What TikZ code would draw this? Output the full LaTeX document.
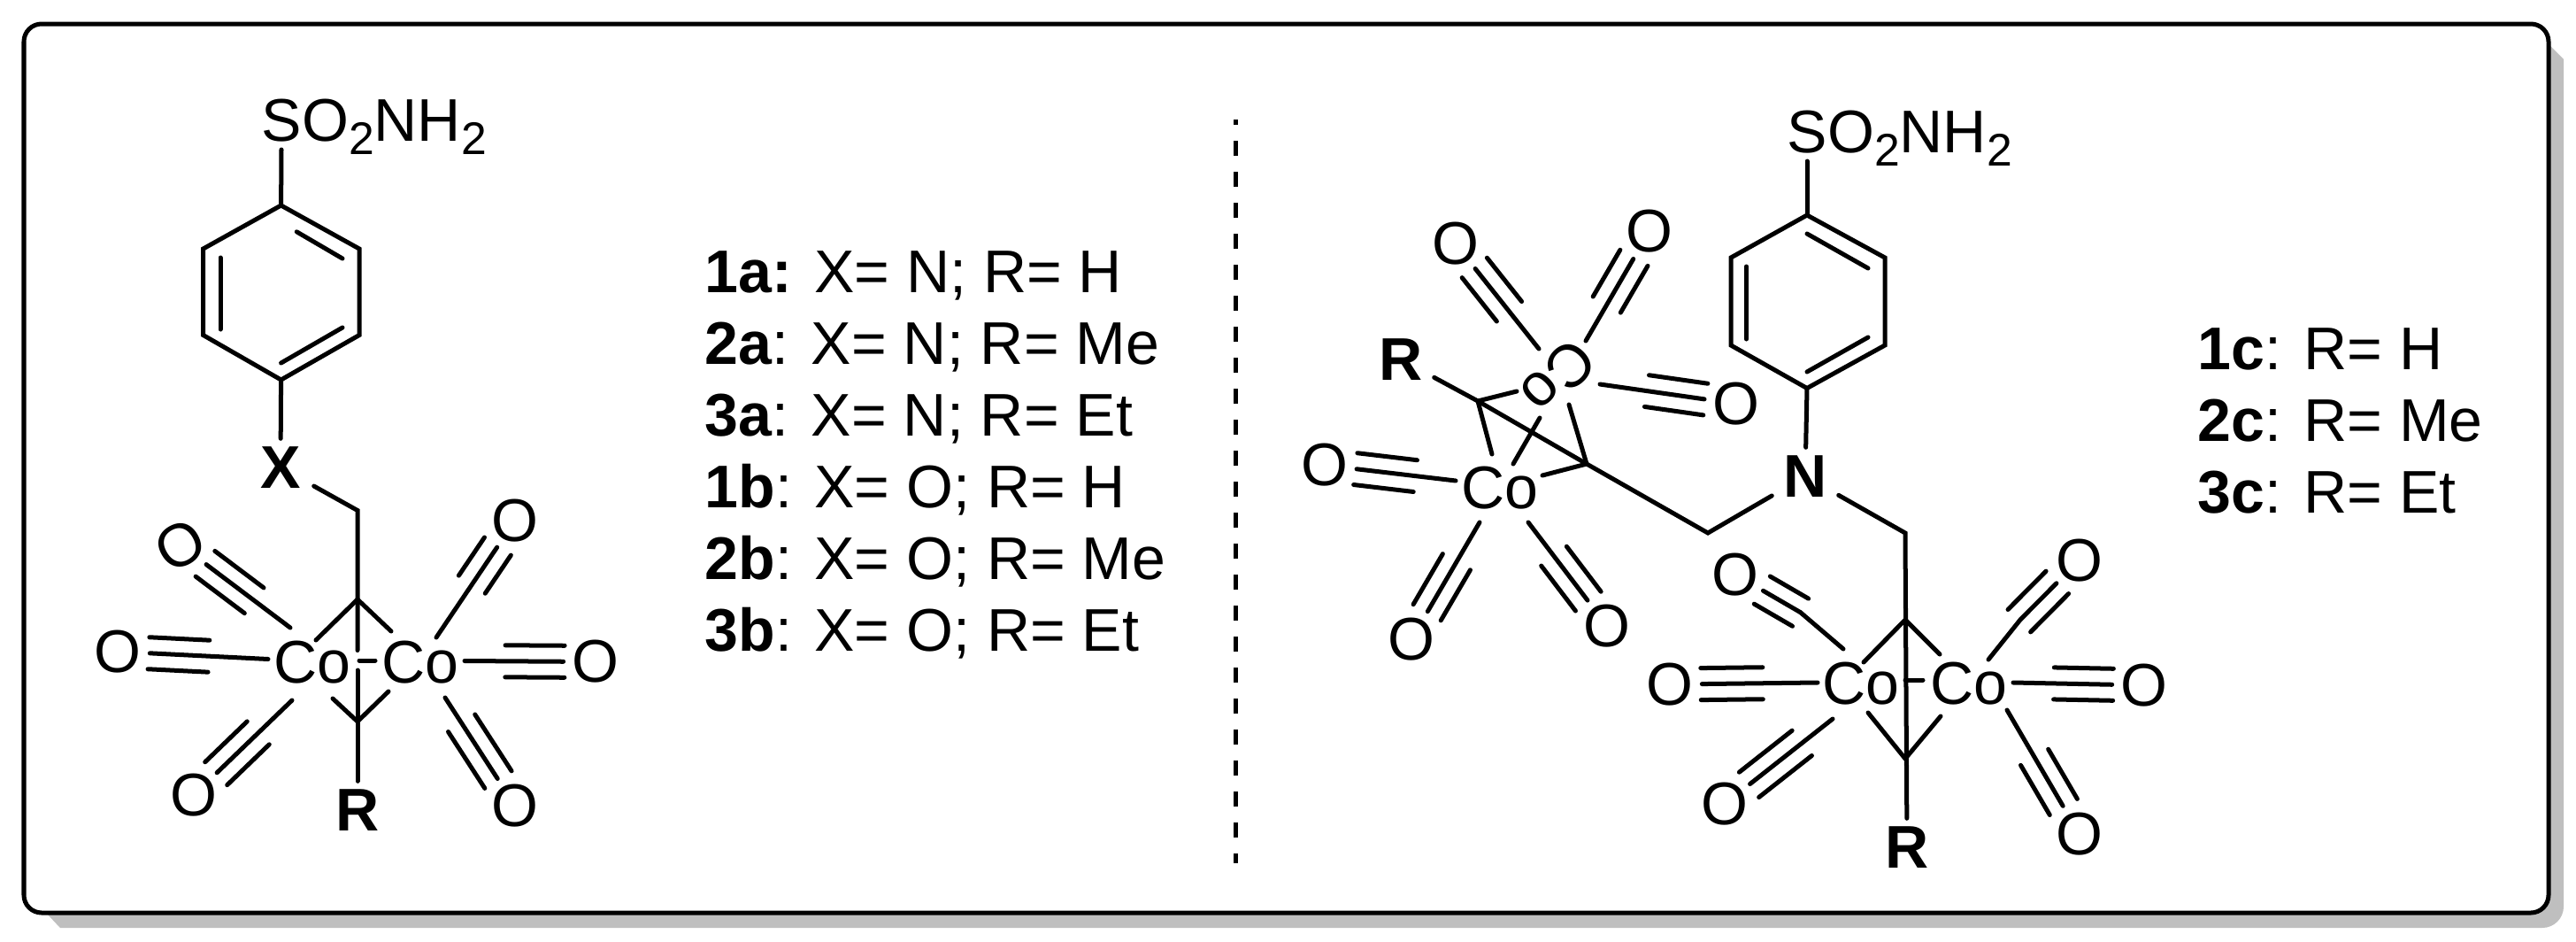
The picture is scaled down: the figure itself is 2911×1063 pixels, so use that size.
\documentclass[tikz,border=0pt]{standalone}
\usepackage{fontspec}
\setmainfont{Liberation Sans}
\usetikzlibrary{calc}
\newcommand{\subtwo}{\raisebox{-.235em}{\fontsize{14.7}{16}\selectfont 2}}
\newcommand{\carbonyl}[4]{%
  \coordinate (cstart) at ($(#1)+(#2)$);
  \draw[bond] (cstart) -- (#3);
  \foreach \s in {-.18cm,.18cm}
    \draw[bond] ($(#3)!.35cm!(cstart)!\s!90:(#3)$) -- ($(#3)!#4cm!(cstart)!\s!90:(#3)$);
}
\begin{document}
\begin{tikzpicture}[x=.01cm,y=-.01cm]
            \tikzset{every node/.style={font=\fontsize{19.35}{23}\selectfont,inner sep=0pt}};
            \tikzset{bond/.style={line width=.05cm,line cap=round,line join=miter}};
            \tikzset{oxy/.style={circle,minimum size=.7cm}};
            \tikzset{hetero/.style={font=\fontsize{19.35}{23}\selectfont\bfseries,minimum width=.74cm,minimum height=.64cm}};
            \tikzset{entry/.style={anchor=base west}};
            \useasboundingbox (0,0) rectangle (2911,1063);

            \fill[black!25] (52,1031) -- (68,1048) [rounded corners=.24cm] -- (2897,1048) [sharp corners] -- (2897,67) -- (2880,50) -- cycle;
            \draw[line width=.05cm,fill=white,rounded corners=.2cm] (27,27) rectangle (2880,1031);
            \draw[line width=.05cm,dash pattern=on .17cm off .18cm,dash phase=.11cm] (1396.5,135) -- (1396.5,975);

            \node[entry] (l1a) at (796,330){\textbf{1a:} X= N; R= H};
            \node[entry] (l2a) at (796,411){\textbf{2a}: X= N; R= Me};
            \node[entry] (l3a) at (796,492){\textbf{3a}: X= N; R= Et};
            \node[entry] (l1b) at (796,573){\textbf{1b}: X= O; R= H};
            \node[entry] (l2b) at (796,654){\textbf{2b}: X= O; R= Me};
            \node[entry] (l3b) at (796,735){\textbf{3b}: X= O; R= Et};
            \node[entry] (l1c) at (2483,417){\textbf{1c}: R= H};
            \node[entry] (l2c) at (2483,498){\textbf{2c}: R= Me};
            \node[entry] (l3c) at (2483,579){\textbf{3c}: R= Et};

            \node[entry] (sa) at (295,159){SO\subtwo NH\subtwo};
            \coordinate (a1) at (317.6,232);
            \coordinate (a2) at (406,281);
            \coordinate (a3) at (406,378.5);
            \coordinate (a4) at (317.6,429);
            \coordinate (a5) at (229.6,378.5);
            \coordinate (a6) at (229.6,281);
            \node[hetero] (xa) at (317,528){X};
            \coordinate (cha) at (404,576.5);
            \coordinate (capa) at (404,677);
            \coordinate (cbot) at (404,815);
            \node[hetero] (ra) at (404,915){R};
            \node (co1) at (353,748.5){Co};
            \node (co2) at (475,748.5){Co};
            \node[oxy,rotate=30] (o1) at (204,615.7){O};
            \node[oxy] (o2) at (133,736){O};
            \node[oxy] (o3) at (219,898){O};
            \node[oxy] (o4) at (582,588){O};
            \node[oxy] (o5) at (673,747.5){O};
            \node[oxy] (o6) at (582,910){O};

            \draw[bond] (a1) -- ($(sa.base west)+(23,10)$);
            \draw[bond] (a1) -- (a2) -- (a3) -- (a4) -- (a5) -- (a6) -- cycle;
            \draw[bond] ($(a1)!.2!(a2)+(0,20)$) -- ($(a2)+(-19,11)$);
            \draw[bond] ($(a6)+(19.4,10)$) -- ($(a5)+(19.4,-6.5)$);
            \draw[bond] ($(a4)+(0,-19)$) -- ($(a3)+(-19,-8.5)$);
            \draw[bond] (a4) -- (xa);
            \draw[bond] (xa) -- (cha) -- ($(co1)+(51,-14)$);
            \draw[bond] ($(co1)+(51,8.5)$) -- (ra);
            \draw[bond] (capa) -- ($(co1)+(4,-25.5)$);
            \draw[bond] (capa) -- ($(co2)+(-33,-35.5)$);
            \draw[bond] (cbot) -- ($(co1)+(23,40.5)$);
            \draw[bond] (cbot) -- ($(co2)+(-36,32.5)$);
            \draw[bond] ($(co1)+(53,-2.5)$) -- ($(co2)+(-51,-2.5)$);
            \carbonyl{co1}{-25,-39.5}{o1}{1.04}
            \carbonyl{co1}{-50,-4}{o2}{1.03}
            \carbonyl{co1}{-23,42.5}{o3}{1.01}
            \carbonyl{co2}{18,-28.5}{o4}{.87}
            \carbonyl{co2}{50,-2}{o5}{1.02}
            \carbonyl{co2}{28,39.5}{o6}{1.11}

            \node[entry] (sb) at (2019,172){SO\subtwo NH\subtwo};
            \coordinate (b1) at (2042,243);
            \coordinate (b2) at (2130,291);
            \coordinate (b3) at (2130,390);
            \coordinate (b4) at (2042,438.5);
            \coordinate (b5) at (1956,390);
            \coordinate (b6) at (1956,291);
            \node[hetero] (nb) at (2040,538){N};
            \coordinate (chl) at (1930,602);
            \coordinate (chr) at (2153,602);
            \coordinate (cl1) at (1793,524);
            \coordinate (cl2) at (1670,453);
            \node[hetero] (rl) at (1583,406){R};
            \node[hetero] (rr) at (2155,957){R};
            \coordinate (crt) at (2153,700);
            \coordinate (crb) at (2153,857);
            \coordinate (kb3) at (2034.6,691.7);
            \coordinate (kb4) at (2283,700);
            \node (co3) at (2103,772){Co};
            \node (co4) at (2225,772){Co};
            \node[rotate=225] (co5) at (1761,426){Co};
            \node (co6) at (1695,551){Co};
            \node[oxy] (o7) at (1961,649){O};
            \node[oxy] (o8) at (1887,773){O};
            \node[oxy] (o9) at (1949,908){O};
            \node[oxy] (o10) at (2349.5,633){O};
            \node[oxy] (o11) at (2423,774){O};
            \node[oxy] (o12) at (2349.5,941.7){O};
            \node[oxy] (o13) at (1644.5,275){O};
            \node[oxy] (o14) at (1864,261){O};
            \node[oxy] (o15) at (1962,456){O};
            \node[oxy] (o16) at (1497,525.5){O};
            \node[oxy] (o17) at (1595,722){O};
            \node[oxy] (o18) at (1816,707){O};

            \draw[bond] (b1) -- ($(sb.base west)+(23,10)$);
            \draw[bond] (b1) -- (b2) -- (b3) -- (b4) -- (b5) -- (b6) -- cycle;
            \draw[bond] ($(b1)+(0,21)$) -- ($(b2)+(-19,12)$);
            \draw[bond] ($(b6)+(17.5,10)$) -- ($(b5)+(17.5,-7)$);
            \draw[bond] ($(b4)+(0,-18.5)$) -- ($(b3)+(-19,-9)$);
            \draw[bond] (b4) -- (nb);
            \draw[bond] (nb) -- (chl) -- (cl1) -- (cl2) -- (rl);
            \draw[bond] (nb) -- (chr) -- (rr);
            \draw[bond] (crt) -- ($(co3)+(3,-24)$);
            \draw[bond] (crt) -- ($(co4)+(-33,-33)$);
            \draw[bond] (crb) -- ($(co3)+(8,33)$);
            \draw[bond] (crb) -- ($(co4)+(-32,37)$);
            \draw[bond] ($(chr|-co4)+(0,-4)$) -- ($(co4)+(-52,-4)$);
            \draw[bond] ($(co3)+(-20,-39)$) -- (kb3);
            \draw[bond] ($(co4)+(22,-27)$) -- (kb4);
            \carbonyl{kb3}{0,0}{o7}{.85}
            \carbonyl{co3}{-49,-1}{o8}{1.05}
            \carbonyl{co3}{-32,40}{o9}{1.11}
            \carbonyl{kb4}{0,0}{o10}{.96}
            \carbonyl{co4}{50,-1}{o11}{1.02}
            \carbonyl{co4}{43,30}{o12}{1.0}

            \draw[bond] (cl2) -- ($(co5)+(-47,16)$);
            \draw[bond] (cl2) -- ($(co6)+(-9,-38)$);
            \draw[bond] (cl1) -- ($(co5)+(12,31)$);
            \draw[bond] (cl1) -- ($(co6)+(48,-14)$);
            \draw[bond] ($(co5)+(-21,46)$) -- ($(co6)+(15,-27)$);
            \carbonyl{co5}{-22,-32}{o13}{.98}
            \carbonyl{co5}{31,-41}{o14}{.96}
            \carbonyl{co5}{47,8}{o15}{1.02}
            \carbonyl{co6}{-50,-8}{o16}{1.03}
            \carbonyl{co6}{-23,39}{o17}{1.01}
            \carbonyl{co6}{32,39}{o18}{.99}
\end{tikzpicture}
\end{document}
